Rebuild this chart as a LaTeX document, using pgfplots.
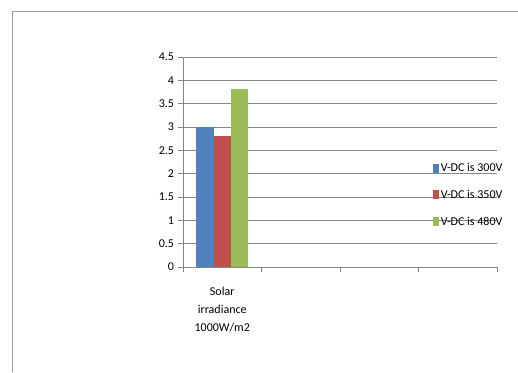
\documentclass[border=0pt]{standalone}
\usepackage{pgfplots}
\pgfplotsset{compat=1.18}
\usepackage{fontspec}
\setmainfont{Carlito}
\definecolor{sblue}{HTML}{4F81BD}
\definecolor{sred}{HTML}{C0504D}
\definecolor{sgreen}{HTML}{9BBB59}
\definecolor{gridc}{HTML}{868686}
\begin{document}
\begin{tikzpicture}
\useasboundingbox (0pt,0pt) rectangle (518pt,372pt);
\draw[gridc!80, line width=0.8pt] (12pt,0pt) -- (12pt,361pt) -- (518pt,361pt);
\begin{axis}[
  at={(183pt,105pt)}, anchor=south west,
  scale only axis, width=314pt, height=210pt,
  xmin=0, xmax=4, ymin=0, ymax=4.5,
  ybar, bar width=17.4pt,
  axis x line*=bottom, axis y line*=left,
  axis line style={gridc, line width=0.9pt, -},
  xtick={0,1,2,3,4}, xticklabels={},
  ytick={0,0.5,...,4.5},
  yticklabels={0,0.5,1,1.5,2,2.5,3,3.5,4,4.5},
  ymajorgrids, grid style={gridc, line width=0.9pt},
  tick align=outside, major tick length=5pt,
  tick style={gridc, line width=0.9pt},
  ticklabel style={font=\fontsize{12}{14}\selectfont, text=black},
  y tick label style={xshift=-0.5pt},
  /pgf/number format/assume math mode=true,
  legend style={draw=none, fill=none, at={(0.795,0.343)}, anchor=west,
    font=\fontsize{12}{14}\selectfont, row sep=13pt, inner sep=0pt,
    /tikz/every even column/.append style={column sep=1.5pt}},
  legend cell align=left,
  legend image code/.code={\fill (0pt,-4.5pt) rectangle (6pt,4.5pt);},
  clip=false,
]
\addplot[draw=none, fill=sblue, bar shift=-17.4pt] coordinates {(0.5,3.0)};
\addplot[draw=none, fill=sred, bar shift=0pt] coordinates {(0.5,2.8)};
\addplot[draw=none, fill=sgreen, bar shift=17.4pt] coordinates {(0.5,3.81)};
\legend{V-DC is 300V, V-DC is 350V, V-DC is 480V}
\node[align=center, font=\fontsize{12}{18}\selectfont, anchor=north] at (axis cs:0.5,0) [yshift=-17pt] {Solar\\irradiance\\1000W/m2};
\end{axis}
\end{tikzpicture}
\end{document}
